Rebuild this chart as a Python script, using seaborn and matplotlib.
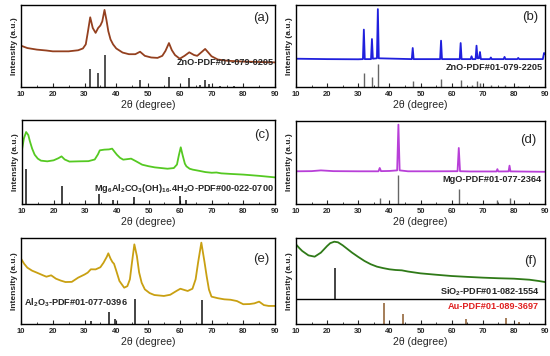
"""XRD patterns, six panels."""
from matplotlib import pyplot as plt
from matplotlib.ticker import MultipleLocator
import seaborn as sns
import numpy as np

# ---- panel (a) : ZnO, broad ----
a_x = [10, 12, 15, 18, 20, 22, 25, 28, 29.5, 30.4, 31.0, 31.8, 32.6, 33.5, 34.3,
       35.0, 35.6, 36.3, 36.9, 37.5, 38.2, 39, 40, 42, 44, 46, 47.5, 49, 51, 53,
       54.5, 55.5, 56.6, 57.5, 58.5, 60, 61.5, 63, 64.5, 65.5, 67, 68, 69, 70,
       72, 75, 80, 85, 90]
a_y = [50.4, 47.5, 45.6, 44.5, 43.5, 43.5, 43.5, 44.8, 47, 52, 65.7, 85, 72, 66,
       72, 75, 80, 94, 82, 68, 58, 52, 47, 42, 40, 40, 43, 38, 36, 35.5,
       38, 44, 53.6, 45, 39, 34.5, 38, 42.3, 39, 38, 43, 46.4, 42, 37.5,
       33.5, 32, 31, 30.5, 30]
a_ref_pos = [31.8, 34.4, 36.3, 47.5, 56.6, 62.9, 66.4, 68.0, 69.1, 72.6, 77.0]
a_ref_h = [22, 16.5, 39.5, 8, 12, 11, 2, 8.5, 4, 1, 1.5]

# ---- panel (b) : ZnO, sharp ----
b_x = [10, 20, 30, 31.5, 31.8, 32.1, 34.1, 34.4, 34.7, 36.0, 36.3, 36.6, 47.2,
       47.5, 47.8, 56.3, 56.6, 56.9, 62.6, 62.9, 63.2, 66.1, 66.4, 66.7, 67.7,
       68.0, 68.3, 68.8, 69.1, 69.4, 72.3, 72.6, 72.9, 76.7, 77.0, 77.3, 81.1,
       81.4, 81.7, 89.3, 89.7, 90]
b_y = [34.5, 34, 33.8, 34, 70, 34, 34, 58.5, 34.5, 35, 95, 35, 34,
       47.6, 34, 34, 56.5, 34, 34, 53.6, 34, 34, 37.5, 34, 34,
       50.4, 35, 35, 42.7, 34, 34, 36, 34, 34, 36.7, 34, 34,
       35.5, 34, 34, 41.5, 40]
b_ref_pos = [31.8, 34.4, 36.3, 47.5, 56.6, 62.9, 66.4, 68.0, 69.1, 72.6, 77.0, 81.4]
b_ref_h = [16.5, 12, 28.6, 7, 10, 9, 3, 7, 4.5, 2, 2, 1.5]

# ---- panel (c) : LDH ----
c_x = [10, 10.6, 11.3, 12, 12.5, 13.2, 14, 15, 16, 18, 20, 21.5, 22.5, 23.5, 25,
       28, 31, 33, 34, 34.6, 36, 37.5, 38.5, 39.3, 40, 41, 42, 43.5, 44.5, 46,
       48, 50, 52, 54, 56, 58, 59, 59.6, 60.2, 60.8, 61.5, 62, 63, 64, 66, 68,
       70, 71.5, 73, 76, 80, 85, 90]
c_y = [64.7, 78, 85.7, 82, 74.6, 66, 58.7, 54, 51.6, 50.8, 52, 54.5, 56.7, 53, 50.5,
       50.8, 51, 53, 59, 63.9, 64.7, 65, 65.9, 62, 58.7, 55, 52.8, 53.5, 54, 51,
       46.8, 45, 43.6, 42.8, 42, 42.8, 47, 58, 67.5, 58, 48, 44.8, 42, 40.9, 39.5, 38,
       37.2, 37.5, 36.5, 35.8, 35, 33.5, 31.7]
c_ref_pos = [11.3, 22.8, 34.5, 38.7, 45.5, 60.0, 61.8]
c_ref_h = [42, 21.8, 11.9, 5, 8, 10, 5]

# ---- panel (d) : MgO ----
d_x = [10, 15, 18, 22, 30, 36.5, 36.9, 37.3, 40, 42.5, 42.9, 43.3, 46, 55, 61.9,
       62.3, 62.7, 66, 74.4, 74.7, 75.0, 78.3, 78.6, 78.9, 85, 90]
d_y = [39.4, 39.6, 40.5, 39.6, 39.4, 39.4, 43.4, 39.6, 39.8, 40.5, 95.6, 40.5, 39.4,
       39.4, 39.5, 67.5, 39.5, 39.2, 39.2, 42, 39.2, 39.3, 46.2, 39.3, 39, 38.8]
d_ref_pos = [36.9, 42.9, 62.3, 74.7, 78.6]
d_ref_h = [7.2, 35.3, 18, 4.8, 7.2]

# ---- panel (e) : Al2O3 ----
e_x = [10, 11, 12, 13.5, 15, 17, 18, 19.5, 21, 22.5, 24, 26, 28, 30, 31, 32, 33.5,
       35, 36, 37, 37.5, 38.2, 38.8, 39.3, 40, 41, 42.5, 43.5, 44.3, 44.9, 45.7,
       46.5, 47.2, 48, 49, 50.5, 52, 55, 57, 59, 60.2, 61.5, 62.5, 64, 65, 65.8,
       66.8, 67.8, 68.5, 69.2, 70, 72, 74, 76, 78, 80, 82, 83.5, 85, 86.5, 88, 90]
e_y = [76, 70, 65.5, 62, 59.7, 56.5, 55, 56.6, 52.7, 50.5, 48.8, 49, 53.9, 57.5,
       59.7, 63.6, 63.5, 66, 71.3, 78, 82.2, 76, 72, 70, 62, 50, 42.2, 44, 52, 70,
       92.6, 79, 60, 48, 40.3, 36, 33.7, 32.6, 34, 38.5, 41, 39.5, 38.4, 41, 52, 72,
       94.6, 72, 55, 40, 31.8, 30, 28.7, 28.2, 26.7, 23, 23.2, 24, 26, 22, 21, 21]
e_ref_pos = [32.1, 37.7, 39.5, 45.8, 67.0]
e_ref_h = [3, 14, 5.4, 29.5, 28]

# ---- panel (f) : SiO2 / Au ----
f_x = [10, 11, 12, 14, 16, 18, 20, 21, 22.3, 23.5, 25, 28, 30, 32, 34, 36, 38, 40,
       42, 44, 46, 50, 55, 60, 65, 70, 75, 80, 85, 88, 90]
f_y = [92.6, 88.5, 84.9, 79.8, 78.3, 83, 90.7, 94, 95.7, 95, 91.5, 83, 78, 73.3,
       69.5, 66.7, 65, 63.6, 62.8, 62.4, 61, 58.9, 57.3, 55.8, 54.8, 53.9, 53.2,
       52.7, 51.5, 50, 48.8]
f_sio2_pos = [22.6]
f_sio2_h = [64.7]
f_split = 28.7
f_au_pos = [38.2, 44.4, 64.6, 77.6, 81.7]
f_au_h = [24.8, 12, 6.2, 6.6, 2.3]

sns.set_style("ticks")
plt.rcParams["font.family"] = ["Liberation Sans", "DejaVu Sans"]
plt.rcParams["mathtext.fontset"] = "custom"
plt.rcParams["mathtext.rm"] = "Liberation Sans:bold"
plt.rcParams["mathtext.default"] = "rm"

fig = plt.figure(figsize=(5.5, 3.56), dpi=100)
W, H = 550, 356
REF_FS = 6.6


def make_ax(x0, y0, x1, y1):
    ax = fig.add_axes([x0 / W, 1 - y1 / H, (x1 - x0) / W, (y1 - y0) / H])
    ax.set_xlim(10, 90)
    ax.set_ylim(0, 100)
    ax.set_yticks([])
    ax.xaxis.set_major_locator(MultipleLocator(10))
    ax.xaxis.set_minor_locator(MultipleLocator(5))
    ax.tick_params(axis="x", which="major", direction="in", length=3, width=0.8,
                   labelsize=5.5, pad=3)
    ax.tick_params(axis="x", which="minor", direction="in", length=1.5, width=0.6)
    for lab in ax.get_xticklabels():
        lab.set_fontweight("bold")
    for s in ax.spines.values():
        s.set_linewidth(1.0)
        s.set_color("black")
    ax.set_xlabel("2\u03b8 (degree)", fontsize=7.6, labelpad=1)
    ax.set_ylabel("Intensity (a.u.)", fontsize=6, fontweight="bold", labelpad=2.5)
    return ax


def curve(ax, x, y, color):
    sns.lineplot(x=x, y=y, ax=ax, color=color, lw=1.3, estimator=None, sort=False)


axes = {
    "a": make_ax(21, 5, 275, 87),
    "b": make_ax(296, 5, 545, 87),
    "c": make_ax(22, 120, 275, 204),
    "d": make_ax(296, 121, 545, 204),
    "e": make_ax(21, 238, 275, 324),
    "f": make_ax(296, 238, 545, 324),
}

ax = axes["a"]
curve(ax, a_x, a_y, "#94401f")
ax.vlines(a_ref_pos, 0, a_ref_h, color="#222222", lw=1.1)
ax.text(89.5, 29.4, "ZnO-PDF#01-079-0205", ha="right", va="center",
        fontsize=REF_FS, fontweight="bold")

ax = axes["b"]
curve(ax, b_x, b_y, "#2020dd")
ax.vlines(b_ref_pos, 0, b_ref_h, color="#666666", lw=1.0)
ax.text(89.4, 23.4, "ZnO-PDF#01-079-2205", ha="right", va="center",
        fontsize=REF_FS, fontweight="bold")

ax = axes["c"]
curve(ax, c_x, c_y, "#55c922")
ax.vlines(c_ref_pos, 0, c_ref_h, color="#111111", lw=1.1)
ax.text(89.5, 18.3,
        r"Mg$_6$Al$_2$CO$_3$(OH)$_{16}$.4H$_2$O-PDF#00-022-0700",
        ha="right", va="center", fontsize=REF_FS, fontweight="bold")

ax = axes["d"]
curve(ax, d_x, d_y, "#b83fd8")
ax.vlines(d_ref_pos, 0, d_ref_h, color="#666666", lw=1.0)
ax.text(88.9, 30, "MgO-PDF#01-077-2364", ha="right", va="center",
        fontsize=REF_FS, fontweight="bold")

ax = axes["e"]
curve(ax, e_x, e_y, "#c9a012")
ax.vlines(e_ref_pos, 0, e_ref_h, color="#111111", lw=1.1)
ax.text(10.8, 24.8, r"Al$_2$O$_3$-PDF#01-077-0396", ha="left", va="center",
        fontsize=REF_FS, fontweight="bold")

ax = axes["f"]
curve(ax, f_x, f_y, "#2f7a18")
ax.axhline(f_split, color="black", lw=1.0)
ax.vlines(f_sio2_pos, f_split, f_sio2_h, color="#111111", lw=1.1)
ax.vlines(f_au_pos, 0, f_au_h, color="#8b5a2b", lw=1.1)
ax.text(88.4, 37.2, r"SiO$_2$-PDF#01-082-1554", ha="right", va="center",
        fontsize=REF_FS, fontweight="bold")
ax.text(88, 19.8, "Au-PDF#01-089-3697", ha="right", va="center",
        fontsize=REF_FS, fontweight="bold", color="#e02020")

panel_pos = {"a": (85.8, 84), "b": (85.2, 85), "c": (85.8, 82.5),
             "d": (84.6, 77.5), "e": (85.8, 76), "f": (85.4, 73)}
for key, (px, py) in panel_pos.items():
    axes[key].text(px, py, "(%s)" % key, ha="center", va="center", fontsize=9.5)

fig.savefig("out.png", dpi=100)
